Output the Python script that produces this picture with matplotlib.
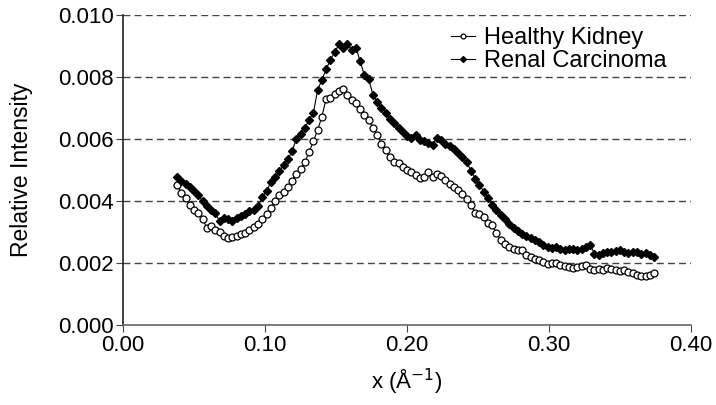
import numpy as np
import matplotlib.pyplot as plt

# momentum transfer grid (1/Angstrom), sampled every 0.003
x = np.round(np.arange(0.038, 0.3755, 0.003), 3)

# relative intensity x 1e-3
healthy = [
    4.50, 4.25, 4.08, 3.86, 3.72, 3.62, 3.42, 3.12, 3.18, 3.05,
    2.98, 2.88, 2.80, 2.84, 2.88, 2.92, 2.95, 3.05, 3.15, 3.26,
    3.40, 3.58, 3.76, 3.98, 4.18, 4.30, 4.45, 4.65, 4.88, 5.02,
    5.25, 5.58, 5.92, 6.28, 6.72, 7.30, 7.32, 7.45, 7.55, 7.60,
    7.42, 7.25, 7.15, 6.98, 6.78, 6.60, 6.36, 6.12, 5.85, 5.64,
    5.42, 5.25, 5.22, 5.10, 5.00, 4.92, 4.85, 4.74, 4.76, 4.92,
    4.78, 4.86, 4.80, 4.66, 4.55, 4.45, 4.35, 4.22, 4.05, 3.87,
    3.62, 3.58, 3.48, 3.30, 3.22, 2.95, 2.74, 2.60, 2.52, 2.46,
    2.40, 2.43, 2.25, 2.20, 2.12, 2.10, 2.02, 1.95, 2.00, 1.98,
    1.94, 1.90, 1.88, 1.84, 1.86, 1.90, 1.94, 1.80, 1.78, 1.80,
    1.77, 1.84, 1.80, 1.76, 1.75, 1.78, 1.72, 1.68, 1.62, 1.57,
    1.58, 1.62, 1.66,
]
carcinoma = [
    4.78, 4.65, 4.55, 4.45, 4.32, 4.20, 3.98, 3.82, 3.72, 3.60,
    3.34, 3.45, 3.40, 3.36, 3.46, 3.50, 3.58, 3.66, 3.72, 3.82,
    4.12, 4.32, 4.60, 4.76, 4.95, 5.16, 5.35, 5.60, 6.00, 6.15,
    6.35, 6.62, 6.84, 7.58, 7.90, 8.25, 8.55, 8.80, 9.05, 8.95,
    9.05, 8.88, 8.95, 8.50, 8.05, 7.92, 7.42, 7.20, 7.00, 6.85,
    6.65, 6.52, 6.36, 6.22, 6.08, 6.02, 6.12, 5.98, 5.92, 5.86,
    5.80, 6.04, 5.98, 5.85, 5.76, 5.66, 5.55, 5.42, 5.24, 4.98,
    4.72, 4.52, 4.30, 4.10, 3.88, 3.70, 3.55, 3.40, 3.24, 3.12,
    3.04, 2.92, 2.86, 2.80, 2.75, 2.68, 2.58, 2.52, 2.48, 2.50,
    2.45, 2.42, 2.46, 2.44, 2.40, 2.44, 2.50, 2.58, 2.30, 2.26,
    2.32, 2.36, 2.34, 2.38, 2.40, 2.36, 2.32, 2.36, 2.34, 2.30,
    2.32, 2.26, 2.20,
]

x_ticks = [0.00, 0.10, 0.20, 0.30, 0.40]
y_ticks = [0.000, 0.002, 0.004, 0.006, 0.008, 0.010]

plt.rcParams['font.family'] = ['Liberation Sans', 'DejaVu Sans']

fig = plt.figure(figsize=(7.16, 4.05), dpi=100)
ax = fig.add_axes([0.172, 0.198, 0.793, 0.765])

# dashed horizontal gridlines (not at zero)
for yv in y_ticks[1:]:
    ax.axhline(yv, color='#444444', linestyle=(0, (5, 3)), linewidth=1.0, zorder=0)

ax.plot(x, np.array(healthy) * 1e-3, color='black', linewidth=0.8,
        marker='o', markersize=5, markerfacecolor='white',
        markeredgecolor='black', markeredgewidth=0.9, label='Healthy Kidney')
ax.plot(x, np.array(carcinoma) * 1e-3, color='black', linewidth=0.8,
        marker='D', markersize=4.3, markerfacecolor='black',
        markeredgecolor='black', label='Renal Carcinoma')

ax.set_xlim(0, 0.40)
ax.set_ylim(0, 0.010)
ax.set_xticks(x_ticks)
ax.set_xticklabels([f'{v:.2f}' for v in x_ticks])
ax.set_yticks(y_ticks)
ax.set_yticklabels([f'{v:.3f}' for v in y_ticks])
ax.tick_params(labelsize=16, direction='out', length=5, color='#444444', pad=2)

for side in ['top', 'right']:
    ax.spines[side].set_visible(False)
ax.spines['left'].set_color('#222222')
ax.spines['bottom'].set_color('#666666')
ax.spines['left'].set_linewidth(1.2)
ax.spines['bottom'].set_linewidth(1.2)

ax.set_xlabel('x (Å$^{-1}$)', fontsize=16, labelpad=8)
ax.set_ylabel('Relative Intensity', fontsize=16.5, labelpad=18)

leg = ax.legend(loc='upper right', bbox_to_anchor=(0.995, 1.03), frameon=False,
                fontsize=17, handlelength=1.0, handletextpad=0.4,
                labelspacing=0.05, markerscale=0.7)

fig.savefig('out.png', dpi=100)
